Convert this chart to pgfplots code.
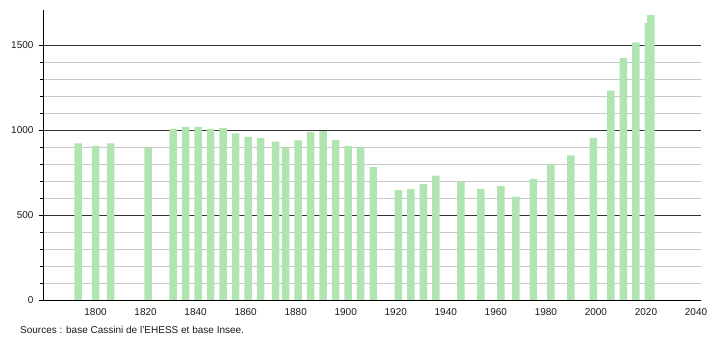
\documentclass[border=0pt]{standalone}
\usepackage{pgfplots}
\pgfplotsset{compat=1.18}
\usepackage{fontspec}
\setmainfont{Liberation Sans}
\definecolor{barg}{RGB}{176,228,176}
\definecolor{gmin}{RGB}{200,200,200}
\definecolor{gmaj}{RGB}{50,50,50}
\begin{document}
\begin{tikzpicture}
\useasboundingbox (0,0) rectangle (710bp,340bp);
\begin{axis}[
  at={(43bp,40bp)}, anchor=south west,
  scale only axis, width=658bp, height=290bp,
  xmin=1779, xmax=2042, ymin=0, ymax=1706,
  axis x line=bottom, axis y line=left,
  axis line style={-, black, line width=0.8pt},
  xtick={1800,1820,...,2040},
  ytick={0,500,1000,1500},
  minor y tick num=4,
  x tick style={draw=none},
  y tick style={black, line width=0.6pt},
  tick align=outside,
  major tick length=4bp, minor tick length=2.5bp,
  ymajorgrids, yminorgrids,
  major grid style={gmaj, line width=0.8pt},
  minor grid style={gmin, line width=0.8pt},
  /pgf/number format/1000 sep={},
  /pgf/number format/assume math mode=true,
  tick label style={font=\fontsize{10bp}{12bp}\selectfont, text=black!90},
  xticklabel style={yshift=-1bp},
  yticklabel style={xshift=-2bp},
  ybar, bar width=7.5bp,
  clip=false,
]
\addplot[fill=barg, draw=none, bar shift=0pt] coordinates {
(1793,922) (1800,906) (1806,922) (1821,897) (1831,1006) (1836,1018)
(1841,1018) (1846,1006) (1851,1012) (1856,980) (1861,959) (1866,953)
(1872,931) (1876,898) (1881,939) (1886,988) (1891,994) (1896,941)
(1901,906) (1906,898) (1911,781) (1921,647) (1926,653) (1931,682)
(1936,731) (1946,698) (1954,653) (1962,671) (1968,606) (1975,712)
(1982,798) (1990,851) (1999,953) (2006,1231) (2011,1424) (2016,1515)
(2021,1629) (2022,1676)
};
\end{axis}
\node[anchor=base west, inner sep=0pt, font=\fontsize{10bp}{12bp}\selectfont, text=black!90] at (20bp,6.5bp) {Sources : base Cassini de l'EHESS et base Insee.};
\end{tikzpicture}
\end{document}
